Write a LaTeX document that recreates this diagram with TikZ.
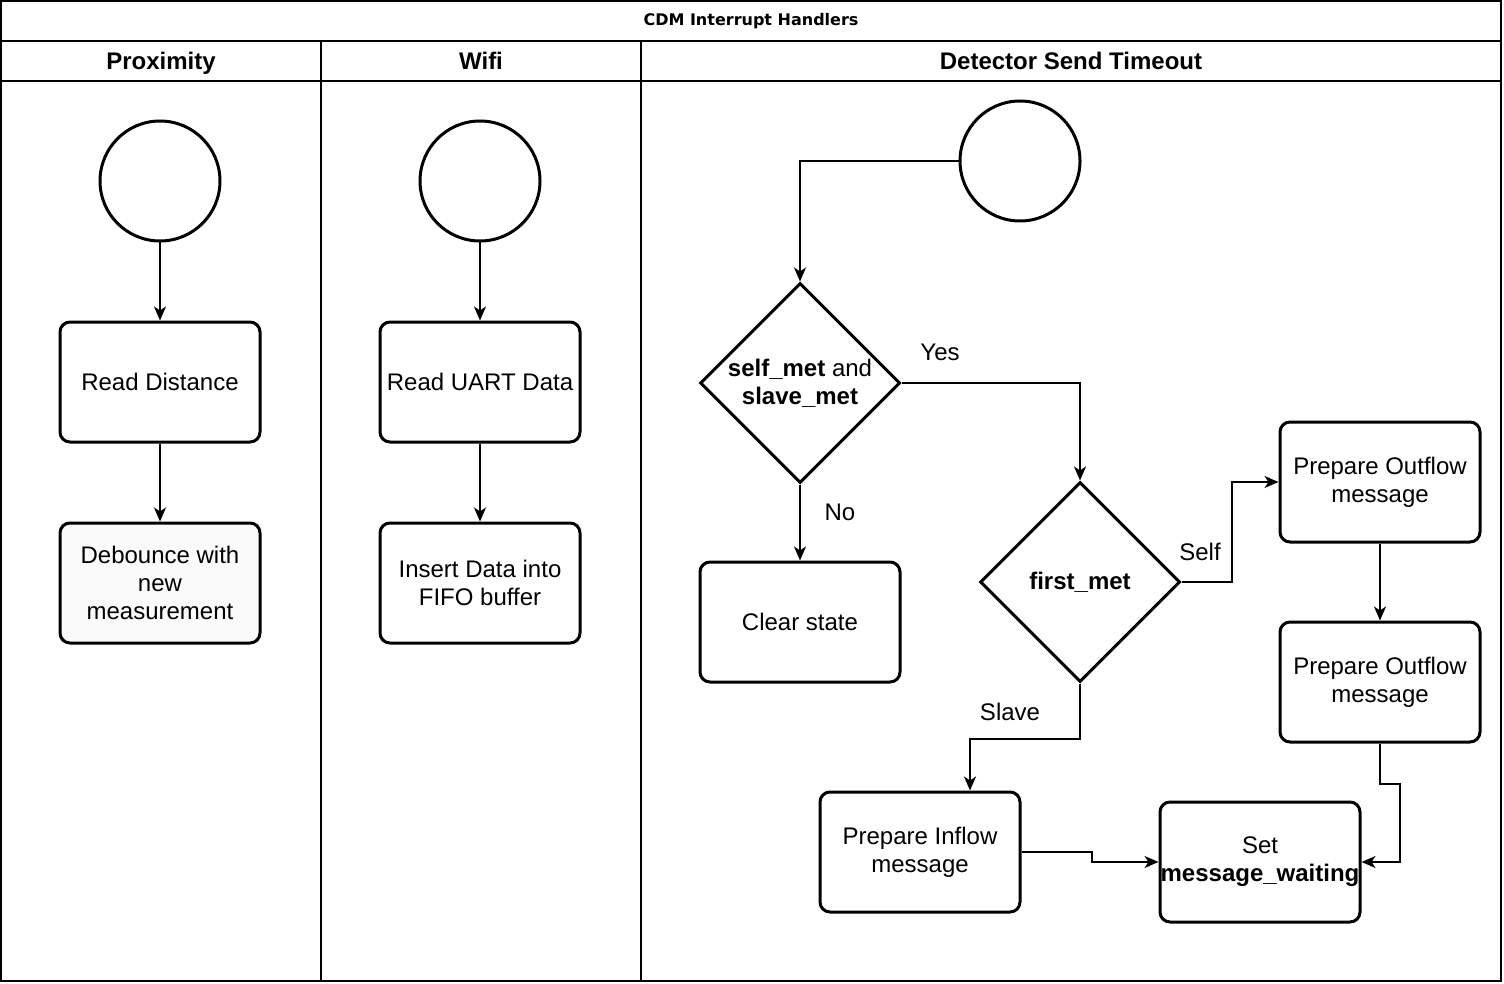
\documentclass[tikz,border=0pt]{standalone}
\usepackage{fontspec}
\setmainfont{Liberation Sans}
\newfontfamily\titlefont{DejaVu Sans}
\usetikzlibrary{arrows.meta,shapes.geometric}
\begin{document}
\begin{tikzpicture}[x=0.5pt,y=-0.5pt,
  txt/.style={font=\fontsize{12}{14}\selectfont},
  proc/.style={txt,draw,line width=1.5pt,rounded corners=5pt,minimum width=100pt,minimum height=60pt,align=center,inner sep=1pt},
  startc/.style={draw,circle,line width=1.5pt,minimum size=60pt,inner sep=0pt},
  dec/.style={txt,draw,diamond,aspect=1,line width=1.5pt,minimum width=100pt,minimum height=100pt,inner sep=0pt,align=center},
  lane/.style={line width=1pt},
  conn/.style={line width=1pt,-{Stealth[length=7pt,width=6pt,inset=2pt]}},
  lbl/.style={txt,inner sep=0pt},
  hdr/.style={font=\fontsize{12}{14}\selectfont\bfseries,inner sep=0pt,anchor=base}
]
\useasboundingbox (0,0) rectangle (1504,984);
% pool
\draw[lane] (1,1) rectangle (1501,981);
\draw[lane] (1,41) -- (1501,41);
\draw[lane] (1,81) -- (1501,81);
\draw[lane] (321,41) -- (321,981);
\draw[lane] (641,41) -- (641,981);
\node[font=\titlefont\fontsize{8}{10}\selectfont\bfseries,inner sep=0pt] (title) at (751,21) {CDM Interrupt Handlers};
\node[hdr] (h1) at (161,70) {Proximity};
\node[hdr] (h2) at (481,70) {Wifi};
\node[hdr] (h3) at (1071,70) {Detector Send Timeout};
% Proximity
\node[startc] (c1) at (160,181) {};
\node[proc] (rd) at (160,382) {Read Distance};
\node[proc,fill=black!2] (db) at (160,583) {Debounce with\\new\\measurement};
\draw[conn] (c1) -- (rd);
\draw[conn] (rd) -- (db);
% Wifi
\node[startc] (c2) at (480,181) {};
\node[proc] (ru) at (480,382) {Read UART Data};
\node[proc] (ins) at (480,583) {Insert Data into\\FIFO buffer};
\draw[conn] (c2) -- (ru);
\draw[conn] (ru) -- (ins);
% Detector
\node[startc] (c3) at (1020,161) {};
\node[dec] (d1) at (800,383) {\textbf{self\_met} and\\\textbf{slave\_met}};
\node[proc] (clr) at (800,622) {Clear state};
\node[dec] (d2) at (1080,582) {\textbf{first\_met}};
\node[proc] (o1) at (1380,482) {Prepare Outflow\\message};
\node[proc] (o2) at (1380,682) {Prepare Outflow\\message};
\node[proc] (inf) at (920,852) {Prepare Inflow\\message};
\node[proc] (set) at (1260,862) {Set\\\makebox[0pt][c]{\textbf{message\_waiting}}};
\draw[conn] (c3.west) -| (d1.north);
\draw[conn] (d1.east) -| (d2.north);
\draw[conn] (d1.south) -- (clr.north);
\draw[conn] (d2.east) -- ++(50,0) |- (o1.west);
\draw[conn] (d2.south) -- ++(0,55) -| ([xshift=25pt]inf.north);
\draw[conn] (o1.south) -- (o2.north);
\draw[conn] (o2.south) -- ++(0,40) -- ++(20,0) |- (set.east);
\draw[conn] (inf.east) -- ++(70,0) |- (set.west);
\node[lbl] (lyes) at (940,352) {Yes};
\node[lbl] (lno) at (840,512) {No};
\node[lbl] (lself) at (1200,552) {Self};
\node[lbl] (lslave) at (1010,712) {Slave};
\end{tikzpicture}
\end{document}
